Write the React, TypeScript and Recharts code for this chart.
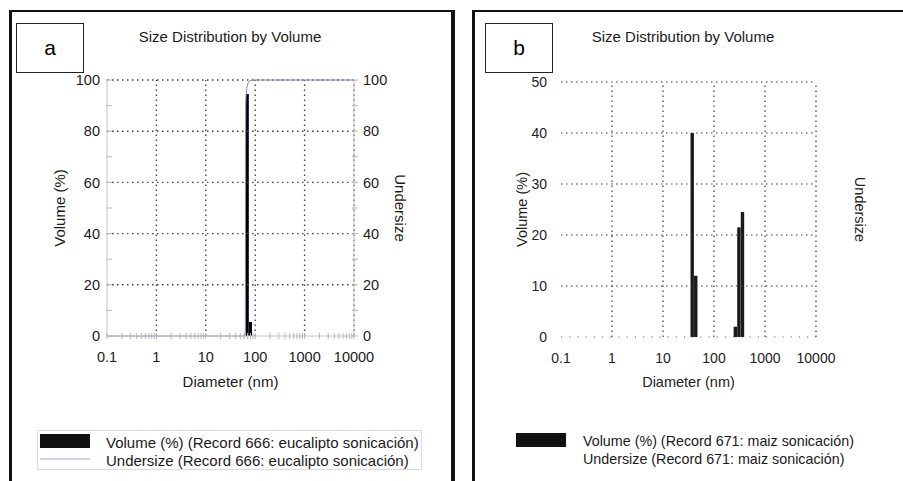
import React from 'react';
import { ComposedChart, Bar, Line, XAxis, YAxis, ReferenceLine } from 'recharts';

// panel a: eucalipto
const diameterA = [69.5, 80.5];
const volumeA = [94.5, 5.5];
const undersizeDiamA = [0.1, 63, 64.5, 68, 76, 92, 10000];
const undersizeA = [0, 0, 90, 97, 99.5, 100, 100];

// panel b: maiz
const diameterB = [37.5, 44, 263, 309, 363];
const volumeB = [40, 12, 2, 21.5, 24.5];

const xTicks = [0.1, 1, 10, 100, 1000, 10000];
const xGrid = [1, 10, 100, 1000, 10000];
const minorSteps = [2, 3, 4, 5, 6, 7, 8, 9];
const yTicksA = [0, 10, 20, 30, 40, 50, 60, 70, 80, 90, 100];
const yLabelsA = [0, 20, 40, 60, 80, 100];
const yTicksB = [0, 10, 20, 30, 40, 50];
const yRightB = [0, 20, 40, 60, 80, 100];

const title = 'Size Distribution by Volume';
const legendA = ['Volume (%) (Record 666: eucalipto sonicación)', 'Undersize (Record 666: eucalipto sonicación)'];
const legendB = ['Volume (%) (Record 671: maiz sonicación)', 'Undersize (Record 671: maiz sonicación)'];

const FONT = '"Liberation Sans", Arial, sans-serif';
const UNDER_COLOR = '#7c7cd6';
const AXIS_GRAY = '#c4c4c4';

const minorTicks = xTicks.slice(0, -1).flatMap((d) => minorSteps.map((m) => +(d * m).toPrecision(3)));
const xTicksA = [...xTicks, ...minorTicks].sort((p, q) => p - q);

const tableA = diameterA.map((d, i) => ({ d, v: volumeA[i] }));
const underTableA = undersizeDiamA.map((d, i) => ({ d, u: undersizeA[i] }));
const tableB = diameterB.map((d, i) => ({ d, v: volumeB[i] }));

const X_MARGIN = 16;

const XTickA = (p: any) => {
  const { x, y, payload } = p;
  const axisY = y - X_MARGIN;
  const major = xTicks.includes(payload.value);
  return (
    <g>
      <line x1={x} x2={x} y1={axisY - 3} y2={axisY + 3} stroke="#b8b8b8" />
      {major && (
        <text x={x} y={y} dy="0.71em" textAnchor="middle" fontSize={14.5} fill="#1a1a1a">
          {payload.value}
        </text>
      )}
    </g>
  );
};

const XTickB = (p: any) => {
  const { x, y, payload } = p;
  return (
    <text x={x} y={y} dy="0.71em" textAnchor="middle" fontSize={14} fill="#222">
      {payload.value}
    </text>
  );
};

const YTickLeftA = (p: any) => {
  const { x, y, payload } = p;
  const axisX = x + 7;
  return (
    <g>
      <line x1={axisX - 1} x2={axisX + 5} y1={y} y2={y} stroke="#b8b8b8" />
      {yLabelsA.includes(payload.value) && (
        <text x={x} y={y} dy="0.355em" textAnchor="end" fontSize={14.5} fill="#1a1a1a">
          {payload.value}
        </text>
      )}
    </g>
  );
};

const YTickRightA = (p: any) => {
  const { x, y, payload } = p;
  const axisX = x - 9;
  return (
    <g>
      <line x1={axisX - 2} x2={axisX + 4} y1={y} y2={y} stroke="#b8b8b8" />
      {yLabelsA.includes(payload.value) && (
        <text x={x} y={y} dy="0.355em" textAnchor="start" fontSize={14.5} fill="#1a1a1a">
          {payload.value}
        </text>
      )}
    </g>
  );
};

const gridProps = { stroke: '#444', strokeDasharray: '1.5 3.5', strokeWidth: 1.4 };

const Frame = ({ left, width, right }: { left: number; width: number; right: boolean }) => (
  <div
    style={{
      position: 'absolute',
      left,
      top: 10,
      width,
      height: 490,
      borderLeft: '3px solid #111',
      borderTop: '2px solid #111',
      borderRight: right ? '4px solid #111' : 'none',
      boxSizing: 'border-box',
    }}
  />
);

const LabelBox = ({ left, text }: { left: number; text: string }) => (
  <div
    style={{
      position: 'absolute',
      left,
      top: 23,
      width: 68,
      height: 50,
      border: '1.5px solid #222',
      boxSizing: 'border-box',
      display: 'flex',
      alignItems: 'center',
      justifyContent: 'center',
      fontSize: 21,
    }}
  >
    {text}
  </div>
);

const Title = ({ left, width }: { left: number; width: number }) => (
  <div style={{ position: 'absolute', left, top: 28, width, textAlign: 'center', fontSize: 15, lineHeight: '17px', color: '#1a1a1a' }}>
    {title}
  </div>
);

const LegendBlock = ({ left, top, lines, swatchLine, fontSize, textLeft }: any) => (
  <>
    <div style={{ position: 'absolute', left, top: top + 4, width: 50, height: 14, background: '#111' }} />
    {swatchLine && <div style={{ position: 'absolute', left, top: top + 28, width: 50, height: 1.5, background: '#cfcff0' }} />}
    {lines.map((t: string, i: number) => (
      <div
        key={t}
        style={{ position: 'absolute', left: textLeft, top: top + 4 + i * 17.5, fontSize, lineHeight: '17px', color: '#1a1a1a', whiteSpace: 'nowrap' }}
      >
        {t}
      </div>
    ))}
  </>
);

export default function App() {
  return (
    <div style={{ position: 'absolute', left: 0, top: 0, width: 903, height: 481, overflow: 'hidden', background: '#fff', fontFamily: FONT }}>
      <Frame left={9} width={446} right />
      <Frame left={472} width={440} right={false} />

      {/* panel a */}
      <div style={{ position: 'absolute', left: 0, top: 0 }}>
        <ComposedChart width={460} height={481} data={tableA} margin={{ top: 80, left: 57, right: 56, bottom: 115 }}>
          {xGrid.map((v) => (
            <ReferenceLine key={'vx' + v} x={v} {...gridProps} />
          ))}
          {yLabelsA.filter((v) => v > 0).map((v) => (
            <ReferenceLine key={'hy' + v} y={v} {...gridProps} />
          ))}
          <XAxis
            dataKey="d"
            type="number"
            scale="log"
            domain={[0.1, 10000]}
            allowDataOverflow
            ticks={xTicksA}
            interval={0}
            height={30}
            tickSize={0}
            tickMargin={X_MARGIN}
            tickLine={false}
            axisLine={{ stroke: AXIS_GRAY }}
            tick={<XTickA />}
            label={{ value: 'Diameter (nm)', position: 'bottom', offset: 10, fontSize: 15, fill: '#1a1a1a' }}
          />
          <XAxis xAxisId="u" dataKey="d" type="number" scale="log" domain={[0.1, 10000]} allowDataOverflow hide />
          <YAxis
            domain={[0, 100]}
            ticks={yTicksA}
            interval={0}
            width={50}
            tickSize={0}
            tickMargin={7}
            tickLine={false}
            axisLine={{ stroke: AXIS_GRAY }}
            tick={<YTickLeftA />}
            label={{ value: 'Volume (%)', angle: -90, position: 'insideLeft', offset: 3, fontSize: 15, fill: '#1a1a1a', style: { textAnchor: 'middle' } }}
          />
          <YAxis
            yAxisId="right"
            orientation="right"
            domain={[0, 100]}
            ticks={yTicksA}
            interval={0}
            width={50}
            tickSize={0}
            tickMargin={9}
            tickLine={false}
            axisLine={{ stroke: AXIS_GRAY }}
            tick={<YTickRightA />}
            label={{ value: 'Undersize', angle: 90, position: 'insideRight', offset: 4, fontSize: 15, fill: '#1a1a1a', style: { textAnchor: 'middle' } }}
          />
          <Bar dataKey="v" fill="#000" barSize={3} isAnimationActive={false} />
          <Line
            data={underTableA}
            xAxisId="u"
            yAxisId="right"
            dataKey="u"
            type="monotone"
            stroke={UNDER_COLOR}
            strokeWidth={1}
            dot={false}
            isAnimationActive={false}
          />
        </ComposedChart>
      </div>

      {/* panel b */}
      <div style={{ position: 'absolute', left: 460, top: 0 }}>
        <ComposedChart width={443} height={481} data={tableB} margin={{ top: 82, left: 51, right: 37, bottom: 114 }}>
          {xGrid.map((v) => (
            <ReferenceLine key={'vx' + v} x={v} {...gridProps} stroke="#3a3a3a" strokeWidth={1.2} />
          ))}
          {yTicksB.filter((v) => v > 0).map((v) => (
            <ReferenceLine key={'hy' + v} y={v} {...gridProps} stroke="#3a3a3a" strokeWidth={1.2} />
          ))}
          <ReferenceLine y={0} stroke="#666" strokeDasharray="1.2 7" strokeWidth={1.2} />
          <XAxis
            dataKey="d"
            type="number"
            scale="log"
            domain={[0.1, 10000]}
            allowDataOverflow
            ticks={xTicks}
            interval={0}
            height={30}
            tickSize={0}
            tickMargin={X_MARGIN}
            tickLine={false}
            axisLine={false}
            tick={<XTickB />}
            label={{ value: 'Diameter (nm)', position: 'bottom', offset: 10, fontSize: 14.5, fill: '#222' }}
          />
          <YAxis
            domain={[0, 50]}
            ticks={yTicksB}
            interval={0}
            width={50}
            tickSize={0}
            tickMargin={14}
            tickLine={false}
            axisLine={false}
            tick={{ fontSize: 14, fill: '#222' }}
            label={{ value: 'Volume (%)', angle: -90, position: 'insideLeft', offset: 11, fontSize: 14.5, fill: '#222', style: { textAnchor: 'middle' } }}
          />
          <YAxis
            yAxisId="right"
            orientation="right"
            domain={[0, 100]}
            ticks={yRightB}
            interval={0}
            width={50}
            tickSize={0}
            tickMargin={9}
            tickLine={false}
            axisLine={false}
            tick={{ fontSize: 14, fill: '#222' }}
            label={{ value: 'Undersize', angle: 90, position: 'insideRight', offset: 6, fontSize: 14.5, fill: '#222', style: { textAnchor: 'middle' } }}
          />
          <Bar dataKey="v" fill="#1a1a1a" barSize={3.4} isAnimationActive={false} />
        </ComposedChart>
      </div>

      <LabelBox left={16} text="a" />
      <LabelBox left={485} text="b" />
      <Title left={0} width={460} />
      <Title left={460} width={446} />

      <div style={{ position: 'absolute', left: 37, top: 430, width: 385, height: 40, border: '1px solid #dcdcdc', boxSizing: 'border-box' }} />
      <LegendBlock left={40} top={430} lines={legendA} swatchLine fontSize={15} textLeft={106} />
      <LegendBlock left={516} top={429} lines={legendB} swatchLine={false} fontSize={14.3} textLeft={583} />
    </div>
  );
}
